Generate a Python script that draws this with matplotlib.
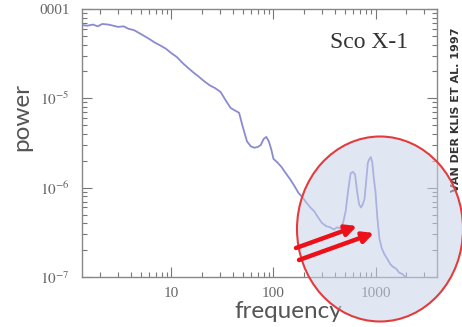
import matplotlib
matplotlib.use("Agg")
import matplotlib.pyplot as plt
from matplotlib.patches import Ellipse, FancyArrowPatch

# power spectrum of Sco X-1
freq = [1.35, 1.5, 1.7, 1.9, 2.1, 2.4, 2.7, 3.0, 3.4, 3.8, 4.3, 4.8, 5.4, 6.1,
        6.9, 7.8, 8.8, 10, 11.3, 12.8, 14.5, 16.4, 18.5, 21, 23.7, 26.8, 30.3,
        34, 38, 42, 46, 50, 55, 60, 65, 70, 75, 80, 85, 90, 95, 100, 110, 120,
        132, 145, 160, 175, 192, 210, 230, 252, 275, 300, 330, 360, 390, 420,
        450, 480, 510, 540, 570, 600, 630, 660, 690, 720, 750, 780, 810, 840,
        870, 900, 930, 960, 1000, 1040, 1090, 1150, 1220, 1300, 1390, 1480,
        1580, 1700, 1830, 1970, 2100]
power = [6.6e-5, 6.5e-5, 6.7e-5, 6.4e-5, 6.8e-5, 6.7e-5, 6.5e-5, 6.3e-5,
         6.4e-5, 6.0e-5, 5.8e-5, 5.4e-5, 5.0e-5, 4.6e-5, 4.2e-5, 3.9e-5,
         3.6e-5, 3.2e-5, 2.9e-5, 2.5e-5, 2.2e-5, 1.95e-5, 1.75e-5, 1.55e-5,
         1.4e-5, 1.3e-5, 1.18e-5, 9.5e-6, 7.8e-6, 7.3e-6, 6.9e-6, 4.8e-6,
         3.3e-6, 2.9e-6, 2.8e-6, 2.85e-6, 3.0e-6, 3.5e-6, 3.7e-6, 3.3e-6,
         2.7e-6, 2.1e-6, 1.9e-6, 1.7e-6, 1.45e-6, 1.25e-6, 1.05e-6, 8.8e-7,
         7.8e-7, 6.8e-7, 6.0e-7, 5.4e-7, 4.6e-7, 4.0e-7, 3.7e-7, 3.6e-7,
         3.4e-7, 3.6e-7, 3.5e-7, 4.0e-7, 5.5e-7, 9.5e-7, 1.45e-6, 1.5e-6,
         1.4e-6, 9.0e-7, 6.5e-7, 6.0e-7, 6.5e-7, 7.5e-7, 1.2e-6, 1.9e-6,
         2.1e-6, 2.2e-6, 1.9e-6, 1.3e-6, 8.8e-7, 4.7e-7, 2.7e-7, 2.1e-7,
         1.8e-7, 1.6e-7, 1.4e-7, 1.3e-7, 1.25e-7, 1.12e-7, 1.08e-7, 1.0e-7,
         9.5e-8]

xticks = [10, 100, 1000]
xticklabels = ["10", "100", "1000"]
yticks = [1e-7, 1e-6, 1e-5, 1e-4]
yticklabels = [r"$10^{-7}$", r"$10^{-6}$", r"$10^{-5}$", "0001"]

plt.rcParams["mathtext.fontset"] = "stix"

W, H = 462, 327
fig = plt.figure(figsize=(W / 100, H / 100), dpi=100)
ax = fig.add_axes([82 / W, 1 - 277 / H, 355 / W, 268 / H])

ax.plot(freq, power, color="#8a8ad2", lw=1.3)
ax.set_xscale("log")
ax.set_yscale("log")
ax.set_xlim(1.33, 4000)
ax.set_ylim(1e-7, 1e-4)

ax.set_xticks(xticks)
ax.set_xticklabels(xticklabels)
ax.set_yticks(yticks)
ax.set_yticklabels(yticklabels)
for lab in ax.get_xticklabels() + ax.get_yticklabels():
    lab.set_family("Liberation Serif")
    lab.set_fontsize(11)
    lab.set_color("#666666")

ax.tick_params(which="both", direction="in", top=True, right=True,
               color="#777777", width=0.8)
ax.tick_params(which="major", length=7, pad=9)
ax.tick_params(which="minor", length=3.5)
ax.tick_params(axis="x", which="major", pad=7)
for s in ax.spines.values():
    s.set_color("#888888")
    s.set_linewidth(1.0)

# highlight round the kHz QPOs
circle = Ellipse((380 / W, 1 - 229 / H), 166 / W, 185 / H,
                 transform=fig.transFigure, facecolor="#c8d4ea", alpha=0.55,
                 edgecolor="none", zorder=5)
ring = Ellipse((380 / W, 1 - 229 / H), 166 / W, 185 / H,
               transform=fig.transFigure, facecolor="none",
               edgecolor="#e23c3c", lw=1.5, zorder=6)
fig.patches.extend([circle, ring])

# two red arrows, in figure pixels
arrows = [((296, H - 248), (357, H - 226)), ((299, H - 260), (374, H - 233))]
for (x0, y0), (x1, y1) in arrows:
    a = FancyArrowPatch((x0 / W, y0 / H), (x1 / W, y1 / H),
                        transform=fig.transFigure, arrowstyle="-|>",
                        color="#ec1018", lw=3.2, mutation_scale=16,
                        shrinkA=0, shrinkB=0, zorder=10)
    fig.patches.append(a)

fig.text(369 / W, 1 - 42 / H, "Sco X-1", family="Liberation Serif",
         fontsize=17, color="#333333", ha="center", va="center")
fig.text(22 / W, 1 - 117 / H, "power", family="Lato", fontsize=17.5,
         color="#555555", rotation=90, ha="center", va="center")
fig.text(288 / W, 1 - 312 / H, "frequency", family="Lato", fontsize=17.5,
         color="#555555", ha="center", va="center")
fig.text(456 / W, 1 - 110 / H, "VAN DER KLIS ET AL. 1997", fontsize=8,
         fontweight="bold", color="#333333", rotation=90,
         ha="center", va="center")

fig.savefig("out.png", dpi=100)
